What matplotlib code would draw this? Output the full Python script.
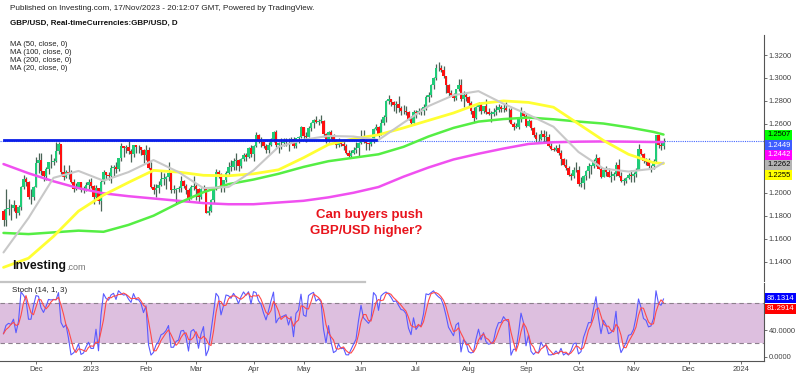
import numpy as np
import pandas as pd
import matplotlib
matplotlib.use("Agg")
import matplotlib.pyplot as plt
from matplotlib.lines import Line2D

plt.rcParams['font.family'] = ['Liberation Sans', 'DejaVu Sans']

# daily GBP/USD bars, 14 Nov 2022 .. 17 Nov 2023 (weekdays)
first_open = 1.1840
closes = [1.1760, 1.1860, 1.1870, 1.1865, 1.1890, 1.1825, 1.1880, 1.2050, 1.2120, 1.2090, 1.1960, 1.1960, 1.2050,
          1.2260, 1.2285, 1.2190, 1.2150, 1.2205, 1.2265, 1.2265, 1.2275, 1.2365, 1.2425, 1.2180, 1.2140, 1.2180,
          1.2160, 1.2095, 1.2030, 1.2050, 1.2090, 1.2020, 1.2025, 1.2065, 1.2097,
          1.2055, 1.1965, 1.2040, 1.1930, 1.2090, 1.2180, 1.2155, 1.2145, 1.2215, 1.2225, 1.2205, 1.2300, 1.2405,
          1.2390, 1.2395, 1.2365, 1.2335, 1.2415, 1.2395, 1.2395, 1.2375, 1.2325,
          1.2375, 1.2220, 1.2050, 1.2020, 1.2045, 1.2070, 1.2120, 1.2120, 1.2140, 1.2175, 1.2025, 1.2025, 1.2030,
          1.2040, 1.2100, 1.2055, 1.2020, 1.1945, 1.2050, 1.2060,
          1.2035, 1.1960, 1.2035, 1.2030, 1.1825, 1.1840, 1.1935, 1.2030, 1.2185, 1.2165, 1.2055, 1.2110, 1.2175,
          1.2225, 1.2225, 1.2275, 1.2285, 1.2235, 1.2290, 1.2330, 1.2310, 1.2390, 1.2335,
          1.2410, 1.2505, 1.2455, 1.2445, 1.2410, 1.2375, 1.2420, 1.2470, 1.2525, 1.2412, 1.2430, 1.2435, 1.2440,
          1.2445, 1.2440, 1.2465, 1.2405, 1.2475, 1.2485, 1.2570,
          1.2495, 1.2490, 1.2565, 1.2605, 1.2635, 1.2615, 1.2625, 1.2625, 1.2510, 1.2450, 1.2525, 1.2490, 1.2450,
          1.2415, 1.2445, 1.2425, 1.2410, 1.2345, 1.2320, 1.2345, 1.2375, 1.2390, 1.2435,
          1.2490, 1.2445, 1.2435, 1.2425, 1.2440, 1.2555, 1.2575, 1.2510, 1.2610, 1.2660, 1.2795, 1.2817, 1.2790,
          1.2765, 1.2770, 1.2740, 1.2710, 1.2715, 1.2700, 1.2640, 1.2605, 1.2705,
          1.2695, 1.2710, 1.2710, 1.2750, 1.2835, 1.2855, 1.2935, 1.3000, 1.3090, 1.3085, 1.3070, 1.3015, 1.2935,
          1.2870, 1.2855, 1.2825, 1.2900, 1.2935, 1.2815, 1.2850, 1.2835,
          1.2780, 1.2715, 1.2655, 1.2748, 1.2785, 1.2715, 1.2755, 1.2705, 1.2690, 1.2690, 1.2705, 1.2725, 1.2745,
          1.2730, 1.2735, 1.2725, 1.2720, 1.2600, 1.2575, 1.2575, 1.2640, 1.2705, 1.2670,
          1.2585, 1.2625, 1.2565, 1.2500, 1.2470, 1.2465, 1.2510, 1.2490, 1.2490, 1.2405, 1.2380, 1.2375, 1.2390,
          1.2345, 1.2290, 1.2240, 1.2220, 1.2155, 1.2150, 1.2195, 1.2200,
          1.2075, 1.2085, 1.2150, 1.2190, 1.2235, 1.2235, 1.2275, 1.2305, 1.2210, 1.2140, 1.2200, 1.2180, 1.2140,
          1.2145, 1.2160, 1.2240, 1.2150, 1.2105, 1.2105, 1.2125, 1.2155, 1.2150,
          1.2160, 1.2200, 1.2380, 1.2335, 1.2275, 1.2265, 1.2230, 1.2235, 1.2275, 1.2500, 1.2420, 1.2410, 1.2449]
highs = [1.1855, 1.2030, 1.1950, 1.1905, 1.1935, 1.1890, 1.1890, 1.2060, 1.2155, 1.2140, 1.2100, 1.2035, 1.2060,
         1.2310, 1.2345, 1.2345, 1.2190, 1.2225, 1.2270, 1.2340, 1.2300, 1.2445, 1.2446, 1.2420, 1.2240, 1.2200,
         1.2240, 1.2195, 1.2120, 1.2085, 1.2095, 1.2095, 1.2060, 1.2090, 1.2120,
         1.2125, 1.2070, 1.2070, 1.2040, 1.2110, 1.2200, 1.2185, 1.2185, 1.2245, 1.2240, 1.2265, 1.2305, 1.2435,
         1.2410, 1.2420, 1.2448, 1.2380, 1.2420, 1.2420, 1.2420, 1.2400, 1.2380,
         1.2418, 1.2395, 1.2270, 1.2075, 1.2080, 1.2100, 1.2195, 1.2170, 1.2150, 1.2270, 1.2170, 1.2065, 1.2040,
         1.2060, 1.2150, 1.2110, 1.2080, 1.2040, 1.2070, 1.2145,
         1.2080, 1.2040, 1.2045, 1.2070, 1.2040, 1.1885, 1.1950, 1.2050, 1.2205, 1.2200, 1.2170, 1.2115, 1.2190,
         1.2265, 1.2285, 1.2300, 1.2345, 1.2290, 1.2300, 1.2345, 1.2345, 1.2400, 1.2420,
         1.2420, 1.2525, 1.2510, 1.2485, 1.2445, 1.2425, 1.2440, 1.2480, 1.2535, 1.2545, 1.2440, 1.2475, 1.2475,
         1.2475, 1.2475, 1.2490, 1.2485, 1.2480, 1.2495, 1.2585,
         1.2575, 1.2530, 1.2580, 1.2620, 1.2645, 1.2665, 1.2640, 1.2680, 1.2630, 1.2520, 1.2535, 1.2545, 1.2510,
         1.2470, 1.2475, 1.2455, 1.2450, 1.2425, 1.2375, 1.2370, 1.2395, 1.2445, 1.2445,
         1.2545, 1.2545, 1.2465, 1.2440, 1.2480, 1.2565, 1.2600, 1.2580, 1.2640, 1.2680, 1.2810, 1.2848, 1.2820,
         1.2795, 1.2800, 1.2840, 1.2760, 1.2765, 1.2760, 1.2710, 1.2665, 1.2720,
         1.2725, 1.2735, 1.2740, 1.2770, 1.2850, 1.2875, 1.2950, 1.3005, 1.3125, 1.3142, 1.3110, 1.3105, 1.3020,
         1.2950, 1.2895, 1.2865, 1.2905, 1.2995, 1.2995, 1.2885, 1.2870,
         1.2840, 1.2800, 1.2745, 1.2760, 1.2790, 1.2790, 1.2760, 1.2815, 1.2735, 1.2715, 1.2740, 1.2765, 1.2770,
         1.2765, 1.2770, 1.2790, 1.2740, 1.2740, 1.2615, 1.2610, 1.2650, 1.2745, 1.2710,
         1.2695, 1.2640, 1.2630, 1.2575, 1.2525, 1.2510, 1.2545, 1.2550, 1.2535, 1.2515, 1.2430, 1.2400, 1.2420,
         1.2425, 1.2370, 1.2305, 1.2290, 1.2235, 1.2170, 1.2225, 1.2270,
         1.2230, 1.2140, 1.2155, 1.2200, 1.2260, 1.2245, 1.2290, 1.2335, 1.2310, 1.2225, 1.2210, 1.2235, 1.2220,
         1.2190, 1.2185, 1.2265, 1.2290, 1.2185, 1.2125, 1.2140, 1.2175, 1.2195,
         1.2180, 1.2215, 1.2428, 1.2375, 1.2345, 1.2305, 1.2305, 1.2245, 1.2290, 1.2505, 1.2505, 1.2445, 1.2478]
lows = [1.1710, 1.1710, 1.1810, 1.1765, 1.1845, 1.1780, 1.1810, 1.1850, 1.2030, 1.2060, 1.1945, 1.1900, 1.1935,
        1.2050, 1.2170, 1.2155, 1.2105, 1.2110, 1.2160, 1.2220, 1.2240, 1.2265, 1.2340, 1.2160, 1.2110, 1.2125,
        1.2120, 1.2085, 1.2005, 1.2020, 1.2040, 1.2010, 1.2000, 1.2015, 1.2030,
        1.2040, 1.1900, 1.1950, 1.1905, 1.1841, 1.2080, 1.2120, 1.2115, 1.2085, 1.2140, 1.2170, 1.2190, 1.2280,
        1.2310, 1.2345, 1.2340, 1.2265, 1.2310, 1.2345, 1.2350, 1.2330, 1.2260,
        1.2285, 1.2205, 1.2040, 1.1990, 1.1960, 1.2000, 1.2060, 1.2065, 1.2030, 1.2100, 1.2000, 1.1995, 1.1915,
        1.2005, 1.2010, 1.2040, 1.1990, 1.1925, 1.1945, 1.2020,
        1.1940, 1.1920, 1.1950, 1.2005, 1.1820, 1.1803, 1.1830, 1.1915, 1.2025, 1.2130, 1.2010, 1.2010, 1.2090,
        1.2150, 1.2190, 1.2200, 1.2200, 1.2190, 1.2215, 1.2275, 1.2275, 1.2300, 1.2310,
        1.2275, 1.2395, 1.2430, 1.2395, 1.2390, 1.2345, 1.2345, 1.2410, 1.2440, 1.2400, 1.2345, 1.2385, 1.2410,
        1.2405, 1.2365, 1.2430, 1.2390, 1.2390, 1.2435, 1.2475,
        1.2470, 1.2445, 1.2485, 1.2535, 1.2560, 1.2605, 1.2590, 1.2605, 1.2485, 1.2435, 1.2445, 1.2470, 1.2435,
        1.2390, 1.2400, 1.2405, 1.2370, 1.2335, 1.2310, 1.2305, 1.2335, 1.2345, 1.2310,
        1.2425, 1.2430, 1.2370, 1.2375, 1.2410, 1.2430, 1.2545, 1.2485, 1.2505, 1.2590, 1.2615, 1.2770, 1.2755,
        1.2715, 1.2695, 1.2700, 1.2680, 1.2690, 1.2675, 1.2630, 1.2590, 1.2600,
        1.2655, 1.2690, 1.2680, 1.2680, 1.2720, 1.2790, 1.2830, 1.2905, 1.2985, 1.3060, 1.3050, 1.3000, 1.2870,
        1.2845, 1.2845, 1.2800, 1.2810, 1.2885, 1.2795, 1.2750, 1.2795,
        1.2760, 1.2690, 1.2620, 1.2645, 1.2715, 1.2685, 1.2695, 1.2690, 1.2680, 1.2615, 1.2665, 1.2675, 1.2705,
        1.2700, 1.2705, 1.2710, 1.2615, 1.2595, 1.2545, 1.2560, 1.2555, 1.2620, 1.2650,
        1.2575, 1.2580, 1.2545, 1.2490, 1.2445, 1.2455, 1.2460, 1.2445, 1.2435, 1.2395, 1.2370, 1.2360, 1.2365,
        1.2330, 1.2240, 1.2230, 1.2200, 1.2145, 1.2110, 1.2130, 1.2185,
        1.2055, 1.2050, 1.2037, 1.2110, 1.2125, 1.2160, 1.2220, 1.2235, 1.2205, 1.2125, 1.2135, 1.2150, 1.2135,
        1.2095, 1.2115, 1.2150, 1.2140, 1.2090, 1.2070, 1.2085, 1.2120, 1.2095,
        1.2090, 1.2140, 1.2195, 1.2330, 1.2255, 1.2245, 1.2215, 1.2185, 1.2210, 1.2265, 1.2390, 1.2375, 1.2385]

# moving averages, every 10 bars
ma_bars = [0, 10, 20, 30, 40, 50, 60, 70, 80, 90, 100, 110, 120, 130, 140, 150, 160, 170, 180, 190, 200,
           210, 220, 230, 240, 250, 260, 264]
ma20 = [1.148, 1.178, 1.213, 1.219, 1.2105, 1.218, 1.2285, 1.218, 1.204, 1.205, 1.2195, 1.240, 1.2462, 1.2495,
        1.249, 1.246, 1.261, 1.2755, 1.285, 1.2885, 1.2775, 1.268, 1.2575, 1.2355, 1.221, 1.2185, 1.221, 1.2262]
ma50 = [1.135, 1.143, 1.162, 1.184, 1.198, 1.209, 1.2195, 1.218, 1.2152, 1.2148, 1.2165, 1.22, 1.2305, 1.242,
        1.247, 1.2505, 1.2565, 1.263, 1.2695, 1.2775, 1.28, 1.2787, 1.2745, 1.26, 1.2455, 1.2335, 1.2262, 1.2255]
ma100 = [1.165, 1.164, 1.1655, 1.167, 1.166, 1.172, 1.18, 1.191, 1.2005, 1.2075, 1.2115, 1.2165, 1.2225, 1.2275,
         1.2305, 1.2335, 1.240, 1.249, 1.2565, 1.262, 1.2642, 1.2655, 1.264, 1.262, 1.2603, 1.257, 1.253, 1.2507]
ma200 = [1.225, 1.217, 1.210, 1.204, 1.1995, 1.197, 1.195, 1.193, 1.191, 1.190, 1.190, 1.1915, 1.193, 1.196,
         1.200, 1.205, 1.214, 1.222, 1.229, 1.234, 1.2385, 1.2425, 1.244, 1.2445, 1.2447, 1.2445, 1.2442, 1.2442]

level = 1.2458
level_end = "2023-06-09"
last_price = 1.2449
price_ticks = [1.14, 1.16, 1.18, 1.20, 1.26, 1.28, 1.30, 1.32]
stoch_ticks = [0, 40]
tags = [("1.2507", "#00ff00", "black"), ("1.2449", "#3d5cff", "white"), ("1.2442", "#ff00ff", "white"),
        ("1.2262", "#b4b4b4", "black"), ("1.2255", "#ffff00", "black")]
stoch_tags = [("86.1314", "#0000ff", "white"), ("81.2914", "#ff0000", "white")]

days = pd.bdate_range("2022-11-14", "2024-01-31")
n = len(closes)
c = np.array(closes)
h = np.array(highs)
l = np.array(lows)
o = np.concatenate([[first_open], c[:-1]])
idx = np.arange(n)

# Stoch(14, 1, 3)
ll = pd.Series(l).rolling(14, min_periods=1).min()
hh = pd.Series(h).rolling(14, min_periods=1).max()
k = 100 * (c - ll) / (hh - ll)
d = k.rolling(3, min_periods=1).mean()

W, H = 800, 376
fig = plt.figure(figsize=(8, 3.76), dpi=100)
def fx(px): return px / W
def fy(py): return 1 - py / H

ax = fig.add_axes([0, fy(281), fx(764), (281 - 35) / H])
ax2 = fig.add_axes([0, fy(361), fx(764), (361 - 283) / H])

x0 = -1.4
x1 = (764 - 3.5) / 2.5
for a in (ax, ax2):
    a.set_xlim(x0, x1)
    for s in ("top", "left", "bottom"):
        a.spines[s].set_visible(False)
    a.spines["right"].set_color("#555555")
    a.spines["right"].set_linewidth(0.8)
    a.yaxis.tick_right()
    a.tick_params(axis="y", length=2, width=0.6, color="#555555", labelsize=5.5, labelcolor="#444444", pad=1.5)
    a.set_facecolor("none")

ax.set_ylim(1.32 - 226 / 1148, 1.32 + 20 / 1148)
ax.set_yticks(price_ticks)
ax.set_yticklabels([f"{t:.4f}" for t in price_ticks])
ax.set_xticks([])

# candles
up = c >= o
wick = "#4a6457"
ax.vlines(idx, l, h, color=wick, lw=0.9, zorder=3)
body_lo = np.minimum(o, c)
body_h = np.maximum(np.abs(c - o), 0.0005)
ax.bar(idx[up], body_h[up], bottom=body_lo[up], width=0.82, color="#1fcc78", zorder=4, linewidth=0)
ax.bar(idx[~up], body_h[~up], bottom=body_lo[~up], width=0.82, color="#ff1010", zorder=4, linewidth=0)

# moving averages
ax.plot(ma_bars, ma200, color="#f050f0", lw=1.8, zorder=5, solid_capstyle="round")
ax.plot(ma_bars, ma100, color="#55ee44", lw=1.8, zorder=5, solid_capstyle="round")
ax.plot(ma_bars, ma50, color="#ffff33", lw=2.0, zorder=5, solid_capstyle="round")
ax.plot(ma_bars, ma20, color="#c8c8c8", lw=1.5, zorder=5, solid_capstyle="round")

# horizontal lines
end_i = days.get_loc(pd.Timestamp(level_end))
ax.axhline(last_price, color="#4466ff", lw=0.8, ls=(0, (1, 1)), zorder=2)
ax.plot([0, end_i], [level, level], color="#0a1ee8", lw=2.0, zorder=6)

# stochastic panel
ax2.set_ylim((356.7 - 361) / 0.667, (356.7 - 283) / 0.667)
ax2.axhspan(20, 80, color="#ddbfdf", zorder=1, lw=0)
ax2.axhline(20, color="#8c7f8c", lw=0.8, ls=(0, (4, 3)), zorder=2)
ax2.axhline(80, color="#8c7f8c", lw=0.8, ls=(0, (4, 3)), zorder=2)
ax2.plot(idx, k, color="#5a5aff", lw=0.8, zorder=3)
ax2.plot(idx, d, color="#ff4a4a", lw=0.8, zorder=4)
ax2.set_yticks(stoch_ticks)
ax2.set_yticklabels([f"{t:.4f}" for t in stoch_ticks])
ax2.spines["bottom"].set_visible(True)
ax2.spines["bottom"].set_color("#555555")
ax2.spines["bottom"].set_linewidth(0.8)

months = pd.Series(np.arange(len(days)), index=days)
firsts = months.groupby([days.year, days.month]).first()
mpos, mlab = [], []
for (yr, mo), i in firsts.items():
    if i < x0 or i > x1 - 5 or (yr == 2022 and mo == 11):
        continue
    mpos.append(i)
    mlab.append(str(yr) if mo == 1 else pd.Timestamp(yr, mo, 1).strftime("%b"))
ax2.set_xticks(mpos)
ax2.set_xticklabels(mlab)
ax2.tick_params(axis="x", length=2, width=0.6, color="#555555", labelsize=5.5, labelcolor="#444444", pad=1.5)

# separator under main panel
fig.add_artist(Line2D([0, fx(365)], [fy(281.5), fy(281.5)], color="#c4c4c4", lw=1.6))

# header text
fig.text(fx(10), fy(9), "Published on Investing.com, 17/Nov/2023 - 20:12:07 GMT, Powered by TradingView.",
         fontsize=5.9, color="#222222", va="center")
fig.text(fx(10), fy(23), "GBP/USD, Real-timeCurrencies:GBP/USD, D", fontsize=5.8, weight="bold",
         color="#111111", va="center")
for j, lab in enumerate(["MA (50, close, 0)", "MA (100, close, 0)", "MA (200, close, 0)", "MA (20, close, 0)"]):
    fig.text(fx(10), fy(44 + 8 * j), lab, fontsize=5.5, color="#222222", va="center")

fig.text(fx(370), fy(215), "Can buyers push", fontsize=9.5, weight="bold", color="#e8141c",
         ha="center", va="center")
fig.text(fx(366), fy(231), "GBP/USD higher?", fontsize=9.5, weight="bold", color="#e8141c",
         ha="center", va="center")

# watermark
logo = fig.text(fx(12), fy(266), "Investing", fontsize=8.8, weight="bold", color="#111111", va="center")
fig.canvas.draw()
bb = logo.get_window_extent(renderer=fig.canvas.get_renderer())
fig.text(bb.x1 / W + fx(0.5), fy(267), ".com", fontsize=6.5, color="#777777", va="center")

fig.text(fx(12), fy(290), "Stoch (14, 1, 3)", fontsize=5.8, color="#222222", va="center")

# value tags on the right
for j, (txt, bg, fg) in enumerate(tags):
    fig.text(fx(767), fy(135 + 10 * j), txt, fontsize=5.5, color=fg, va="center",
             bbox=dict(boxstyle="square,pad=0.2", fc=bg, ec="none"))
for j, (txt, bg, fg) in enumerate(stoch_tags):
    fig.text(fx(767), fy(298 + 11 * j), txt, fontsize=5.5, color=fg, va="center",
             bbox=dict(boxstyle="square,pad=0.2", fc=bg, ec="none"))

fig.savefig("out.png", dpi=100, facecolor="white")
